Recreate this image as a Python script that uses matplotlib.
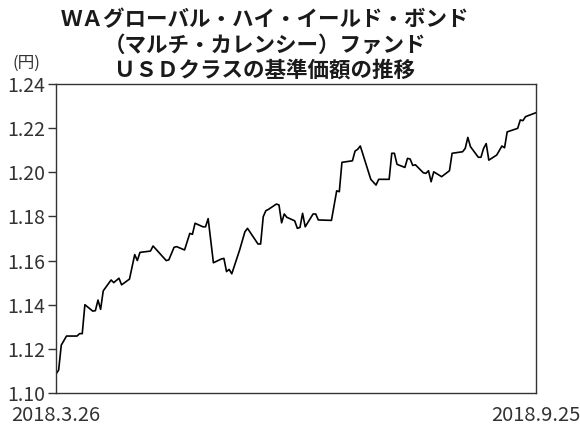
import pandas as pd
import matplotlib
matplotlib.use('Agg')
from matplotlib import pyplot as plt

plt.rcParams['font.family'] = ['Noto Sans CJK JP', 'DejaVu Sans']

title_lines = [
    'ＷＡグローバル・ハイ・イールド・ボンド',
    '（マルチ・カレンシー）ファンド',
    'ＵＳＤクラスの基準価額の推移',
]
unit_label = '(円)'

dates = [
    '2018-03-26', '2018-03-27', '2018-03-28', '2018-03-30', '2018-04-03',
    '2018-04-04', '2018-04-05', '2018-04-06', '2018-04-09', '2018-04-10',
    '2018-04-11', '2018-04-12', '2018-04-13', '2018-04-16', '2018-04-17',
    '2018-04-19', '2018-04-20', '2018-04-23', '2018-04-25', '2018-04-26',
    '2018-04-27', '2018-05-01', '2018-05-02', '2018-05-07', '2018-05-08',
    '2018-05-10', '2018-05-11', '2018-05-14', '2018-05-16', '2018-05-17',
    '2018-05-18', '2018-05-21', '2018-05-22', '2018-05-23', '2018-05-25',
    '2018-05-28', '2018-05-29', '2018-05-30', '2018-05-31', '2018-06-01',
    '2018-06-04', '2018-06-06', '2018-06-07', '2018-06-11', '2018-06-12',
    '2018-06-13', '2018-06-14', '2018-06-15', '2018-06-18', '2018-06-19',
    '2018-06-20', '2018-06-21', '2018-06-22', '2018-06-25', '2018-06-26',
    '2018-06-27', '2018-06-28', '2018-06-29', '2018-07-02', '2018-07-03',
    '2018-07-04', '2018-07-09', '2018-07-11', '2018-07-12', '2018-07-13',
    '2018-07-17', '2018-07-18', '2018-07-19', '2018-07-20', '2018-07-24',
    '2018-07-26', '2018-07-27', '2018-07-31', '2018-08-01', '2018-08-02',
    '2018-08-03', '2018-08-06', '2018-08-07', '2018-08-08', '2018-08-09',
    '2018-08-10', '2018-08-13', '2018-08-14', '2018-08-15', '2018-08-16',
    '2018-08-17', '2018-08-20', '2018-08-23', '2018-08-24', '2018-08-28',
    '2018-08-29', '2018-08-30', '2018-08-31', '2018-09-03', '2018-09-04',
    '2018-09-05', '2018-09-06', '2018-09-07', '2018-09-10', '2018-09-12',
    '2018-09-13', '2018-09-14', '2018-09-18', '2018-09-19', '2018-09-20',
    '2018-09-21', '2018-09-25',
]
nav = [
    1.1086, 1.1104, 1.1217, 1.1258, 1.1258,
    1.1269, 1.1269, 1.1400, 1.1371, 1.1373,
    1.1421, 1.1379, 1.1463, 1.1512, 1.1500,
    1.1520, 1.1490, 1.1516, 1.1627, 1.1600,
    1.1637, 1.1643, 1.1666, 1.1600, 1.1603,
    1.1660, 1.1663, 1.1648, 1.1723, 1.1719,
    1.1769, 1.1753, 1.1753, 1.1790, 1.1590,
    1.1607, 1.1610, 1.1550, 1.1560, 1.1540,
    1.1648, 1.1730, 1.1746, 1.1675, 1.1675,
    1.1799, 1.1826, 1.1832, 1.1856, 1.1852,
    1.1771, 1.1811, 1.1796, 1.1780, 1.1746,
    1.1750, 1.1814, 1.1753, 1.1811, 1.1811,
    1.1784, 1.1782, 1.1916, 1.1912, 1.2045,
    1.2052, 1.2096, 1.2104, 1.2119, 1.1968,
    1.1942, 1.1968, 1.1968, 1.2086, 1.2086,
    1.2036, 1.2022, 1.2063, 1.2060, 1.2031,
    1.2034, 1.1998, 1.1995, 1.2007, 1.1957,
    1.2002, 1.1980, 1.2007, 1.2086, 1.2093,
    1.2108, 1.2158, 1.2116, 1.2068, 1.2068,
    1.2108, 1.2130, 1.2055, 1.2078, 1.2119,
    1.2111, 1.2183, 1.2199, 1.2237, 1.2234,
    1.2252, 1.2270,
]
y_ticks = [1.10, 1.12, 1.14, 1.16, 1.18, 1.20, 1.22, 1.24]
x_ends = ['2018-03-26', '2018-09-25']
x_end_labels = ['2018.3.26', '2018.9.25']

x = pd.to_datetime(dates)
x_lim = pd.to_datetime(x_ends)

fig = plt.figure(figsize=(5.8, 4.25), dpi=100)
ax = fig.add_axes([0.0966, 0.0753, 0.8276, 0.7271])
ax.plot(x, nav, color='black', linewidth=1.2)

ax.set_xlim(x_lim[0], x_lim[1])
ax.set_ylim(y_ticks[0], y_ticks[-1])
ax.set_yticks(y_ticks)
ax.set_yticklabels([f'{t:.2f}' for t in y_ticks], fontsize=14, color='#333333')
ax.tick_params(axis='y', length=6, width=1, pad=2, colors='#333333')
ax.set_xticks(x_lim)
ax.set_xticklabels(x_end_labels, fontsize=14.5, color='#333333')
ax.tick_params(axis='x', length=0, pad=9)
for s in ax.spines.values():
    s.set_color('#333333')
    s.set_linewidth(1.0)

for i, line in enumerate(title_lines):
    fig.text(265 / 580, 1 - (20 + 25 * i) / 425, line, ha='center', va='center',
             fontsize=15.5, fontweight='bold', color='#1a1a1a')
fig.text(26 / 580, 1 - 63 / 425, unit_label, ha='center', va='center',
         fontsize=12, color='#333333')

fig.savefig('out.png', dpi=100)
